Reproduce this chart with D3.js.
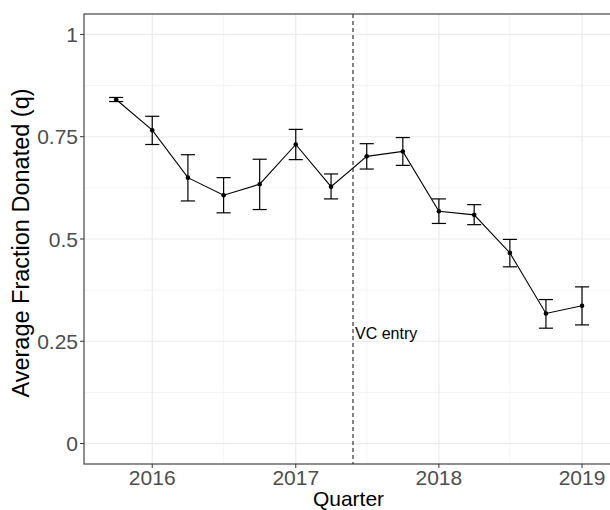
<!DOCTYPE html>
<style>
  body { margin: 0; background: #fff; }
  svg { font-family: "Liberation Sans", Arial, sans-serif; }
</style>
<svg width="610" height="510"></svg>
<script src="https://d3js.org/d3.v7.min.js"></script>
<script>

// quarterly averages with error bars
var quarters = ["2015-10-01","2016-01-01","2016-04-01","2016-07-01","2016-10-01",
                "2017-01-01","2017-04-01","2017-07-01","2017-10-01","2018-01-01",
                "2018-04-01","2018-07-01","2018-10-01","2019-01-01"];
var meanQ = [0.841, 0.766, 0.650, 0.607, 0.634, 0.731, 0.628, 0.702, 0.714, 0.568, 0.559, 0.466, 0.318, 0.337];
var lowQ  = [0.836, 0.731, 0.593, 0.564, 0.572, 0.694, 0.598, 0.671, 0.680, 0.538, 0.535, 0.432, 0.282, 0.290];
var highQ = [0.846, 0.800, 0.706, 0.650, 0.695, 0.768, 0.659, 0.733, 0.748, 0.598, 0.584, 0.499, 0.352, 0.383];

var yTicks = [0, 0.25, 0.5, 0.75, 1];
var yMinor = [0.125, 0.375, 0.625, 0.875];
var xTicks = ["2016-01-01","2017-01-01","2018-01-01","2019-01-01"];
var xMinor = ["2016-07-01","2017-07-01","2018-07-01"];
var vcEntry = "2017-05-27";

var parse = d3.timeParse("%Y-%m-%d");
var data = quarters.map(function(q, i) {
  return {date: parse(q), mean: meanQ[i], low: lowQ[i], high: highQ[i]};
});

var svg = d3.select("svg");
// panel edges (the right one falls just outside the picture)
var pLeft = 84, pRight = 613, pTop = 14, pBottom = 464;

var x = d3.scaleTime()
    .domain([parse("2015-07-11"), parse("2019-03-21")])
    .range([pLeft, pRight]);
var y = d3.scaleLinear()
    .domain([-0.05, 1.05])
    .range([pBottom, pTop]);

// grid
svg.append("g").selectAll("line").data(yMinor).enter().append("line")
    .attr("x1", pLeft).attr("x2", pRight)
    .attr("y1", function(d) { return y(d); }).attr("y2", function(d) { return y(d); })
    .attr("stroke", "#f2f2f2").attr("stroke-width", 0.8);
svg.append("g").selectAll("line").data(xMinor).enter().append("line")
    .attr("x1", function(d) { return x(parse(d)); }).attr("x2", function(d) { return x(parse(d)); })
    .attr("y1", pTop).attr("y2", pBottom)
    .attr("stroke", "#f2f2f2").attr("stroke-width", 0.8);
svg.append("g").selectAll("line").data(yTicks).enter().append("line")
    .attr("x1", pLeft).attr("x2", pRight)
    .attr("y1", function(d) { return y(d); }).attr("y2", function(d) { return y(d); })
    .attr("stroke", "#ebebeb").attr("stroke-width", 1.2);
svg.append("g").selectAll("line").data(xTicks).enter().append("line")
    .attr("x1", function(d) { return x(parse(d)); }).attr("x2", function(d) { return x(parse(d)); })
    .attr("y1", pTop).attr("y2", pBottom)
    .attr("stroke", "#ebebeb").attr("stroke-width", 1.2);

// VC entry marker
svg.append("line")
    .attr("x1", x(parse(vcEntry))).attr("x2", x(parse(vcEntry)))
    .attr("y1", pTop).attr("y2", pBottom)
    .attr("stroke", "#333").attr("stroke-width", 1.2)
    .attr("stroke-dasharray", "4,3");
svg.append("text")
    .attr("x", x(parse(vcEntry)) + 2)
    .attr("y", y(0.255))
    .attr("font-size", "16px")
    .attr("fill", "#000")
    .text("VC entry");

// error bars
var half = 18 * 24 * 3600 * 1000;
var eb = svg.append("g").attr("stroke", "#000").attr("stroke-width", 1.2);
data.forEach(function(d) {
  var t = d.date.getTime();
  eb.append("line").attr("x1", x(d.date)).attr("x2", x(d.date))
    .attr("y1", y(d.low)).attr("y2", y(d.high));
  eb.append("line").attr("x1", x(new Date(t - half))).attr("x2", x(new Date(t + half)))
    .attr("y1", y(d.low)).attr("y2", y(d.low));
  eb.append("line").attr("x1", x(new Date(t - half))).attr("x2", x(new Date(t + half)))
    .attr("y1", y(d.high)).attr("y2", y(d.high));
});

// mean line + points
svg.append("path")
    .datum(data)
    .attr("fill", "none")
    .attr("stroke", "#000")
    .attr("stroke-width", 1.1)
    .attr("d", d3.line().x(function(d) { return x(d.date); }).y(function(d) { return y(d.mean); }));
svg.append("g").selectAll("circle").data(data).enter().append("circle")
    .attr("cx", function(d) { return x(d.date); })
    .attr("cy", function(d) { return y(d.mean); })
    .attr("r", 2.3)
    .attr("fill", "#000");

// panel border
svg.append("rect")
    .attr("x", pLeft).attr("y", pTop)
    .attr("width", pRight - pLeft).attr("height", pBottom - pTop)
    .attr("fill", "none").attr("stroke", "#333").attr("stroke-width", 1.1);

// axes
svg.append("g").selectAll("line").data(yTicks).enter().append("line")
    .attr("x1", pLeft - 4).attr("x2", pLeft)
    .attr("y1", function(d) { return y(d); }).attr("y2", function(d) { return y(d); })
    .attr("stroke", "#333");
svg.append("g").selectAll("text").data(yTicks).enter().append("text")
    .attr("x", pLeft - 6)
    .attr("y", function(d) { return y(d); })
    .attr("dy", "0.36em")
    .attr("text-anchor", "end")
    .attr("font-size", "21px")
    .attr("fill", "#4d4d4d")
    .text(function(d) { return d3.format("")(d); });

svg.append("g").selectAll("line").data(xTicks).enter().append("line")
    .attr("x1", function(d) { return x(parse(d)); }).attr("x2", function(d) { return x(parse(d)); })
    .attr("y1", pBottom).attr("y2", pBottom + 4)
    .attr("stroke", "#333");
svg.append("g").selectAll("text").data(xTicks).enter().append("text")
    .attr("x", function(d) { return x(parse(d)); })
    .attr("y", pBottom + 21)
    .attr("text-anchor", "middle")
    .attr("font-size", "21px")
    .attr("fill", "#4d4d4d")
    .text(function(d) { return d3.timeFormat("%Y")(parse(d)); });

// titles
svg.append("text")
    .attr("x", (pLeft + pRight) / 2)
    .attr("y", 506)
    .attr("text-anchor", "middle")
    .attr("font-size", "21px")
    .attr("fill", "#000")
    .text("Quarter");
svg.append("text")
    .attr("transform", "translate(29," + ((pTop + pBottom) / 2 + 4) + ") rotate(-90)")
    .attr("text-anchor", "middle")
    .attr("font-size", "23.5px")
    .attr("fill", "#000")
    .text("Average Fraction Donated (q)");

</script>
